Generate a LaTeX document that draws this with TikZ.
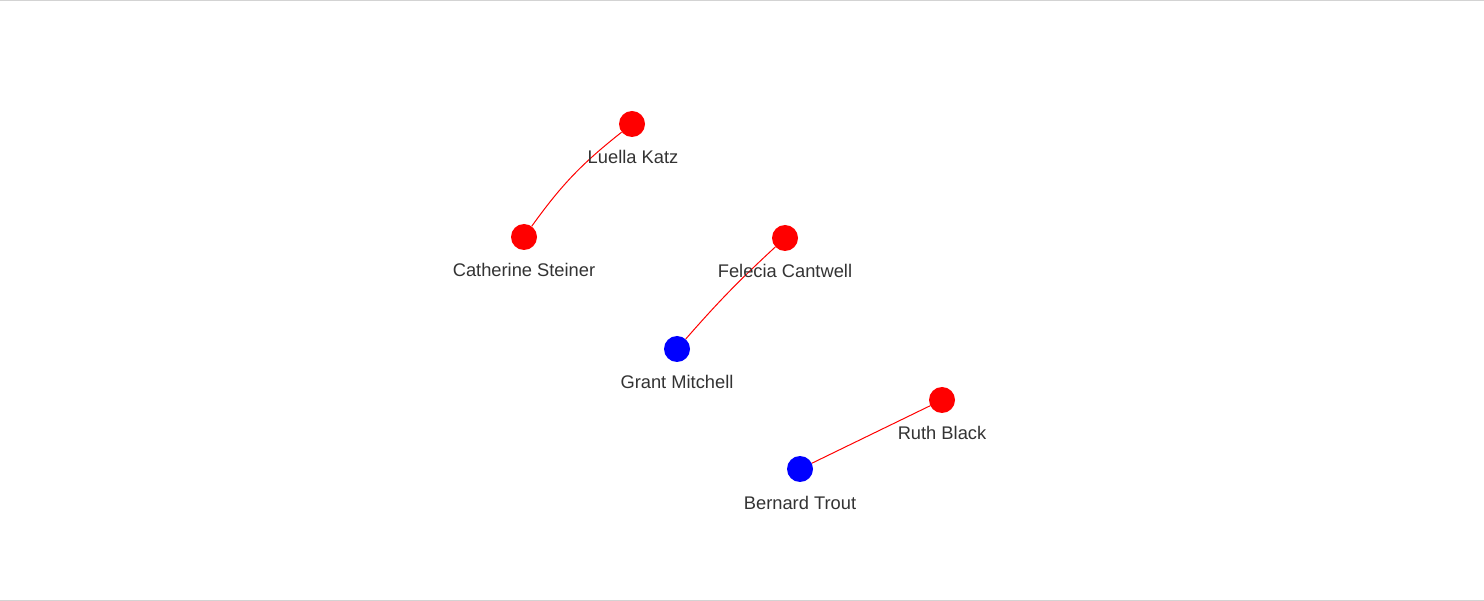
\documentclass[tikz,border=0pt]{standalone}
\usepackage{fontspec}
\setmainfont{Liberation Sans}
\definecolor{txt}{HTML}{333333}
\definecolor{frame}{HTML}{D3D3D3}
\definecolor{nred}{HTML}{FF0000}
\definecolor{nblue}{HTML}{0000FF}
\tikzset{
  person/.style={circle, minimum size=26pt, inner sep=0pt, draw=none},
  redp/.style={person, fill=nred},
  bluep/.style={person, fill=nblue},
  lbl/.style={text=txt, font=\fontsize{18.3}{21}\selectfont, inner sep=0pt, anchor=base},
  link/.style={draw=nred, line width=1pt},
}
\begin{document}
\begin{tikzpicture}[x=1pt,y=-1pt]
\useasboundingbox (0,0) rectangle (1484,601);
\fill[white] (0,0) rectangle (1484,601);
\draw[frame, line width=1.5pt] (0,0.75) -- (1484,0.75);
\draw[frame, line width=1.5pt] (0,600.25) -- (1484,600.25);

\node[redp] (luella) at (632,124) {};
\node[redp] (catherine) at (524,237) {};
\node[redp] (felecia) at (785,238) {};
\node[bluep] (grant) at (677,349) {};
\node[redp] (ruth) at (942,400) {};
\node[bluep] (bernard) at (800,469) {};

\draw[link] (catherine) to[bend left=8] (luella);
\draw[link] (grant) to[bend left=3] (felecia);
\draw[link] (bernard) -- (ruth);

\node[lbl] (luellal) at (633,164) {Luella Katz};
\node[lbl] (catherinel) at (524,277) {Catherine Steiner};
\node[lbl] (felecial) at (785,278) {Felecia Cantwell};
\node[lbl] (grantl) at (677,389) {Grant Mitchell};
\node[lbl] (ruthl) at (942,440) {Ruth Black};
\node[lbl] (bernardl) at (800,509) {Bernard Trout};
\end{tikzpicture}
\end{document}
